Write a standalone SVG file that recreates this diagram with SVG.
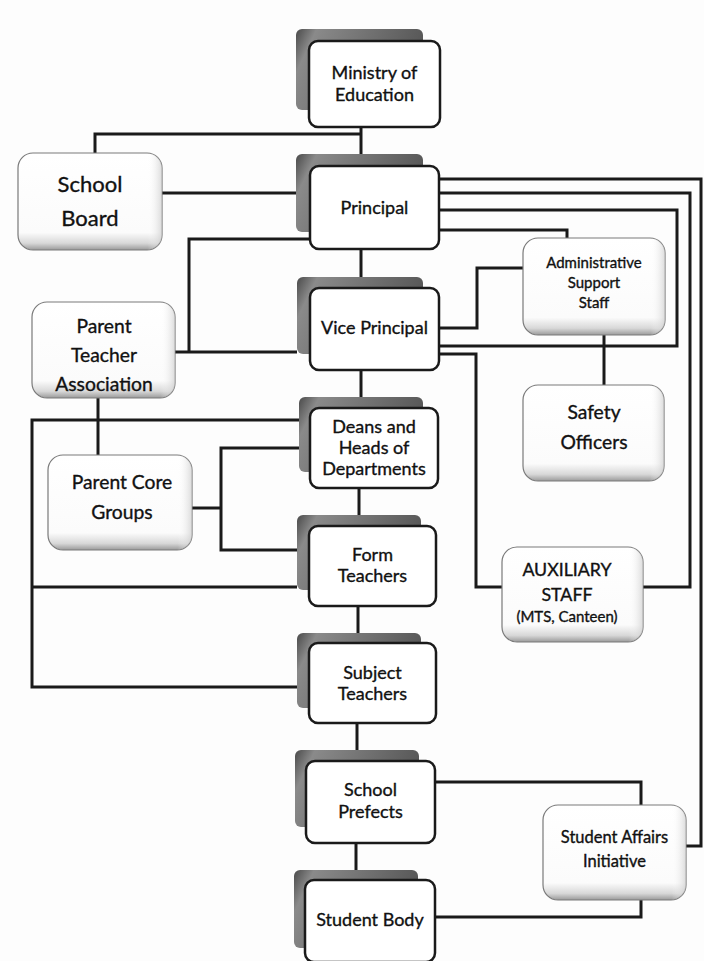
<svg xmlns="http://www.w3.org/2000/svg" width="704" height="961" viewBox="0 0 704 961">
<defs>
<linearGradient id="shadowGrad" x1="0" y1="0" x2="1" y2="0.3">
<stop offset="0" stop-color="#4a4a4a"/>
<stop offset="0.15" stop-color="#8a8a8a"/>
<stop offset="0.6" stop-color="#6e6e6e"/>
<stop offset="1" stop-color="#555"/>
</linearGradient>
<linearGradient id="sideGrad" x1="0" y1="0" x2="0" y2="1">
<stop offset="0" stop-color="#ffffff"/>
<stop offset="0.82" stop-color="#fbfbfb"/>
<stop offset="0.93" stop-color="#d8d8d8"/>
<stop offset="1" stop-color="#9a9a9a"/>
</linearGradient>
<linearGradient id="sideEdge" x1="0" y1="0" x2="1" y2="0">
<stop offset="0" stop-color="#fff" stop-opacity="0"/>
<stop offset="0.9" stop-color="#fff" stop-opacity="0"/>
<stop offset="1" stop-color="#ccc" stop-opacity="0.7"/>
</linearGradient>
</defs>
<style>
.bg{fill:#fdfdfd}
.sh{fill:url(#shadowGrad)}
.fr{fill:#ffffff;stroke:#1a1a1a;stroke-width:2.5}
.sd{fill:url(#sideGrad);stroke:#7a7a7a;stroke-width:1.2}
.se{fill:url(#sideEdge)}
.cn{fill:none;stroke:#1a1a1a;stroke-width:3;stroke-linejoin:miter}
text{font-family:Lato,"Open Sans","Liberation Sans",sans-serif;fill:#111;stroke:#111;stroke-width:0.35;text-anchor:middle}
.m{font-size:18px}
.sa{font-size:16.5px}
.s{font-size:19.3px}
.l{font-size:22px}
.a{font-size:15px}
.x{font-size:17.8px}
</style>
<rect class="bg" x="0" y="0" width="704" height="961"/>

<g id="connectors">
<path class="cn" d="M361,127 V154"/>
<path class="cn" d="M95,153 V134 H361"/>
<path class="cn" d="M162,193 H296"/>
<path class="cn" d="M361,249 V277"/>
<path class="cn" d="M310,239 H189 V352"/>
<path class="cn" d="M175,352 H297"/>
<path class="cn" d="M439,179 H701 V846 H686"/>
<path class="cn" d="M439,193 H690 V587 H643"/>
<path class="cn" d="M439,210 H677 V346 H439"/>
<path class="cn" d="M439,230 H567 V238"/>
<path class="cn" d="M439,328 H477 V268 H523"/>
<path class="cn" d="M604,335 V385"/>
<path class="cn" d="M439,354 H476 V587 H502"/>
<path class="cn" d="M361,370 V397"/>
<path class="cn" d="M98,398 V455"/>
<path class="cn" d="M299,420 H32 V687 H297"/>
<path class="cn" d="M32,587 H297"/>
<path class="cn" d="M299,448 H221 V550 H297"/>
<path class="cn" d="M192,508 H221"/>
<path class="cn" d="M359,488 V515"/>
<path class="cn" d="M358,606 V633"/>
<path class="cn" d="M357,723 V750"/>
<path class="cn" d="M435,782 H641 V805"/>
<path class="cn" d="M356,843 V870"/>
<path class="cn" d="M436,917 H641 V900"/>
</g>

<g id="ministry">
<rect class="sh" x="296" y="29" width="127" height="81" rx="6"/>
<rect class="fr" x="309" y="41" width="131" height="86" rx="9"/>
<text class="m" x="374.5" y="79">Ministry of</text>
<text class="m" x="374.5" y="101">Education</text>
</g>

<g id="principal">
<rect class="sh" x="296" y="154" width="127" height="78" rx="6"/>
<rect class="fr" x="310" y="166" width="129" height="83" rx="9"/>
<text class="m" x="374.5" y="214">Principal</text>
</g>

<g id="vice-principal">
<rect class="sh" x="297" y="277" width="126" height="77" rx="6"/>
<rect class="fr" x="310" y="288" width="129" height="82" rx="9"/>
<text class="m" x="374.5" y="334">Vice Principal</text>
</g>

<g id="deans">
<rect class="sh" x="299" y="397" width="124" height="75" rx="6"/>
<rect class="fr" x="310" y="408" width="128" height="80" rx="9"/>
<text class="m" x="374" y="433">Deans and</text>
<text class="m" x="374" y="454">Heads of</text>
<text class="m" x="374" y="475">Departments</text>
</g>

<g id="form-teachers">
<rect class="sh" x="297" y="515" width="124" height="75" rx="6"/>
<rect class="fr" x="309" y="526" width="127" height="80" rx="9"/>
<text class="m" x="372.5" y="561">Form</text>
<text class="m" x="372.5" y="582">Teachers</text>
</g>

<g id="subject-teachers">
<rect class="sh" x="297" y="633" width="124" height="75" rx="6"/>
<rect class="fr" x="309" y="643" width="127" height="80" rx="9"/>
<text class="m" x="372.5" y="679">Subject</text>
<text class="m" x="372.5" y="700">Teachers</text>
</g>

<g id="school-prefects">
<rect class="sh" x="295" y="750" width="124" height="77" rx="6"/>
<rect class="fr" x="306" y="761" width="129" height="82" rx="9"/>
<text class="m" x="370.5" y="796">School</text>
<text class="m" x="370.5" y="818">Prefects</text>
</g>

<g id="student-body">
<rect class="sh" x="294" y="870" width="124" height="78" rx="6"/>
<rect class="fr" x="305" y="880" width="130" height="82" rx="9"/>
<text class="m" x="370" y="926">Student Body</text>
</g>

<g id="school-board">
<rect class="sd" x="18" y="153" width="144" height="97" rx="15"/>
<rect class="se" x="18" y="153" width="144" height="97" rx="15"/>
<text class="l" x="90" y="192">School</text>
<text class="l" x="90" y="226">Board</text>
</g>

<g id="pta">
<rect class="sd" x="32" y="302" width="143" height="96" rx="15"/>
<rect class="se" x="32" y="302" width="143" height="96" rx="15"/>
<text class="s" x="104" y="333">Parent</text>
<text class="s" x="104" y="362">Teacher</text>
<text class="s" x="104" y="391">Association</text>
</g>

<g id="admin-support">
<rect class="sd" x="523" y="238" width="142" height="97" rx="15"/>
<rect class="se" x="523" y="238" width="142" height="97" rx="15"/>
<text class="a" x="594" y="268">Administrative</text>
<text class="a" x="594" y="288">Support</text>
<text class="a" x="594" y="308">Staff</text>
</g>

<g id="safety-officers">
<rect class="sd" x="523" y="385" width="141" height="96" rx="15"/>
<rect class="se" x="523" y="385" width="141" height="96" rx="15"/>
<text class="s" x="594" y="419">Safety</text>
<text class="s" x="594" y="449">Officers</text>
</g>

<g id="parent-core">
<rect class="sd" x="48" y="455" width="144" height="95" rx="15"/>
<rect class="se" x="48" y="455" width="144" height="95" rx="15"/>
<text class="s" x="122" y="489">Parent Core</text>
<text class="s" x="122" y="519">Groups</text>
</g>

<g id="auxiliary-staff">
<rect class="sd" x="502" y="547" width="141" height="95" rx="15"/>
<rect class="se" x="502" y="547" width="141" height="95" rx="15"/>
<text class="x" x="567" y="576">AUXILIARY</text>
<text class="x" x="567" y="601">STAFF</text>
<text class="a" x="567" y="622">(MTS, Canteen)</text>
</g>

<g id="student-affairs">
<rect class="sd" x="543" y="805" width="143" height="95" rx="15"/>
<rect class="se" x="543" y="805" width="143" height="95" rx="15"/>
<text class="sa" x="614.5" y="843">Student Affairs</text>
<text class="sa" x="614.5" y="867">Initiative</text>
</g>
</svg>
